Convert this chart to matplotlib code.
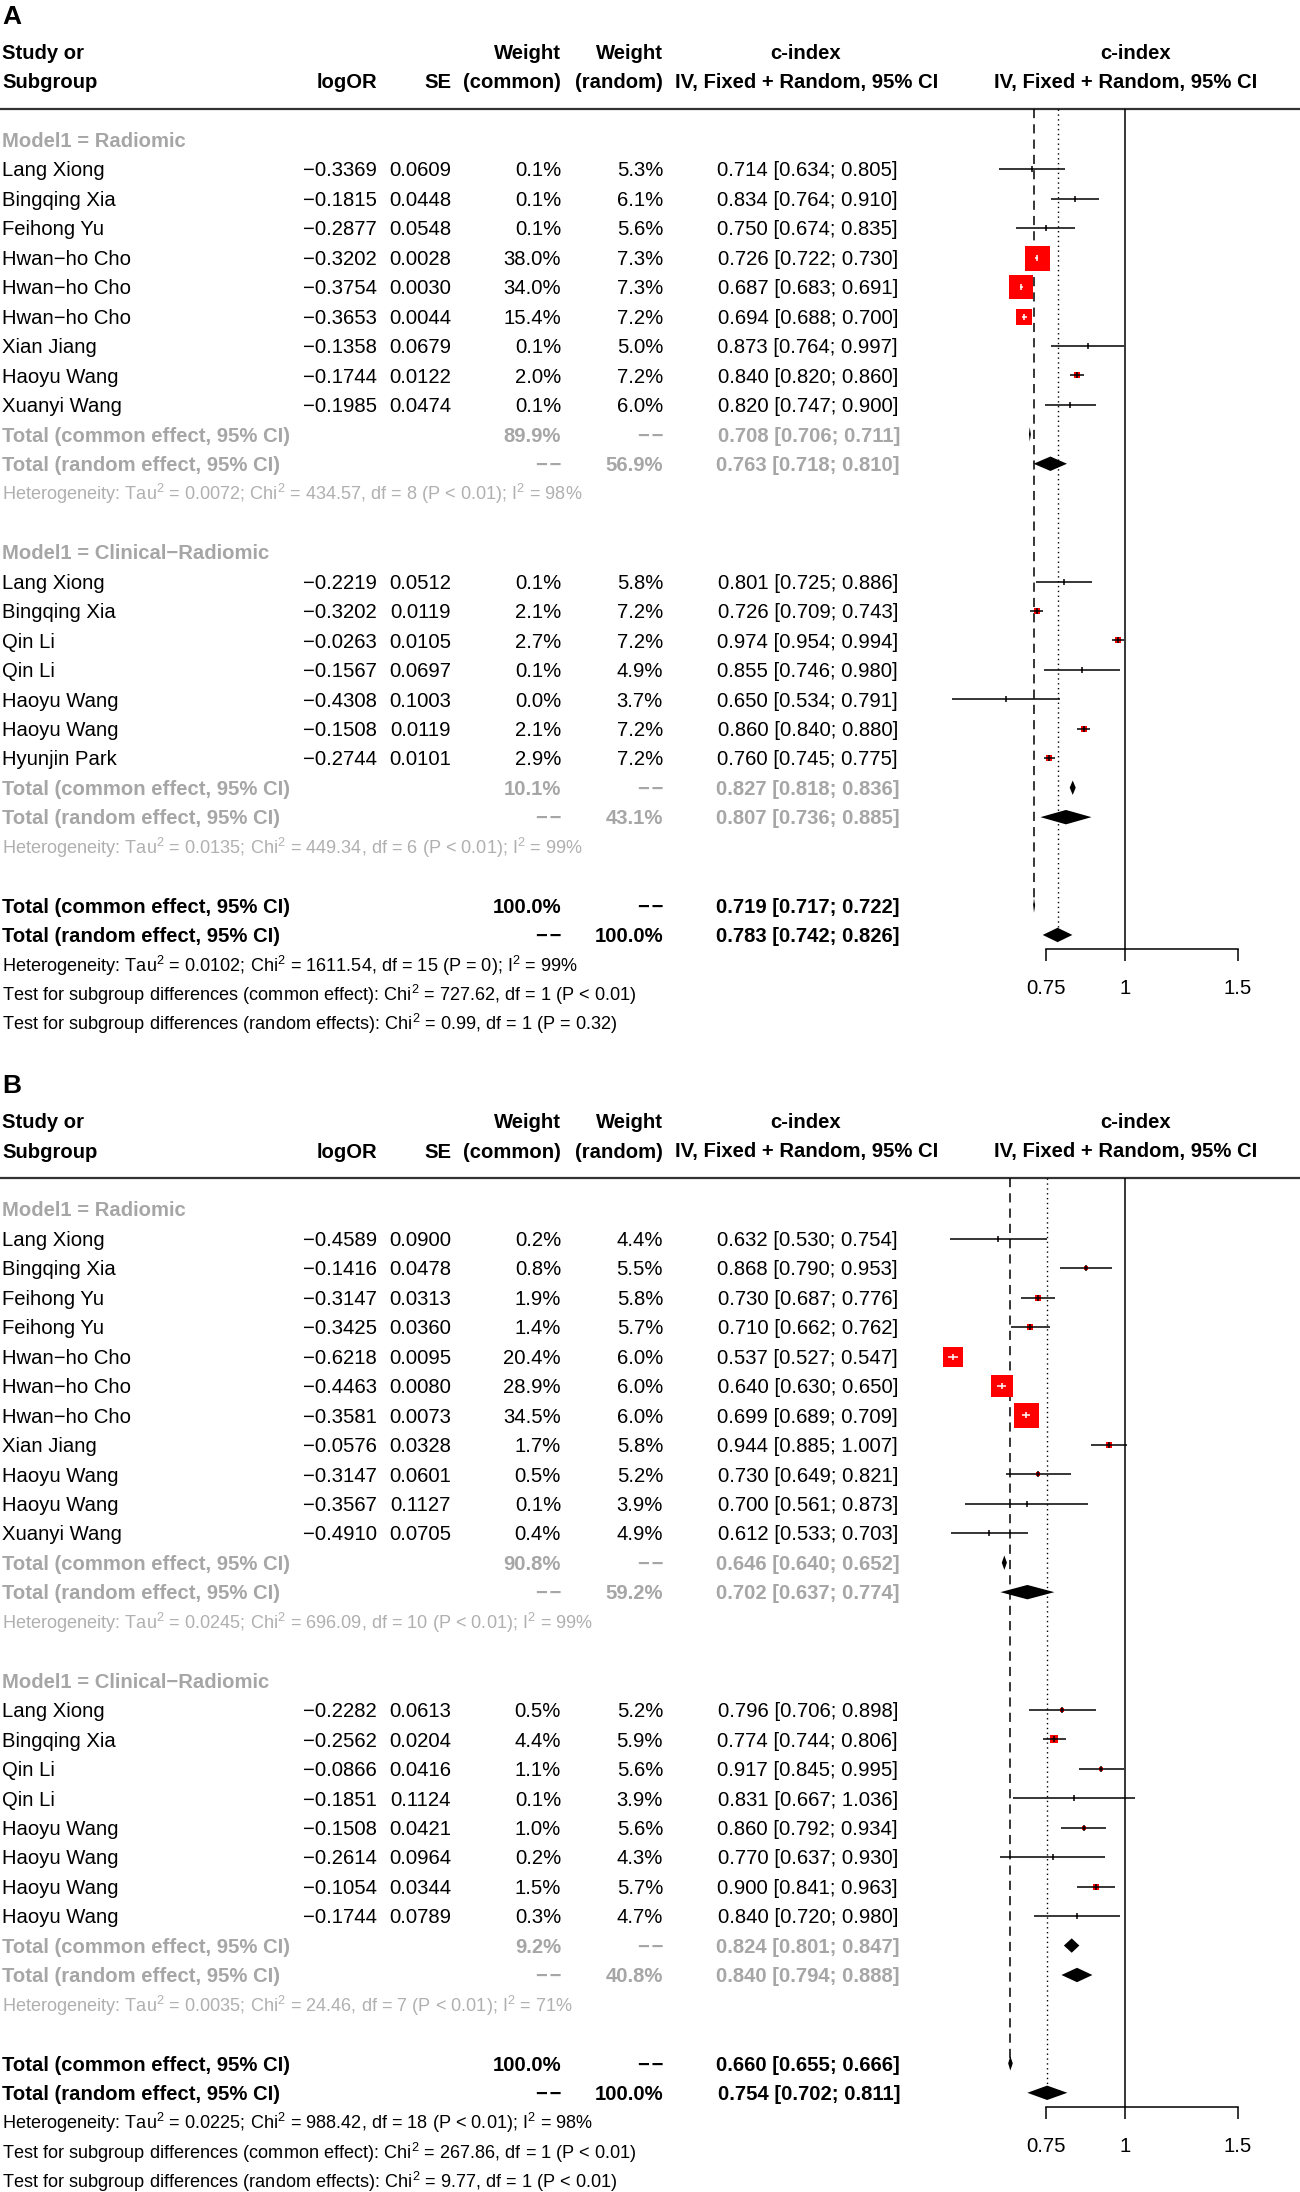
import numpy as np
import matplotlib.pyplot as plt
from matplotlib.ticker import NullLocator, FixedLocator, FixedFormatter

plt.rcParams['font.family'] = ['Liberation Sans', 'DejaVu Sans']
plt.rcParams['mathtext.fontset'] = 'custom'
plt.rcParams['mathtext.rm'] = 'Liberation Sans'
plt.rcParams['mathtext.bf'] = 'Liberation Sans:bold'

# %% panel A, subgroup Radiomic
a1_study = ['Lang Xiong', 'Bingqing Xia', 'Feihong Yu', 'Hwan−ho Cho', 'Hwan−ho Cho', 'Hwan−ho Cho',
            'Xian Jiang', 'Haoyu Wang', 'Xuanyi Wang']
a1_logor = [-0.3369, -0.1815, -0.2877, -0.3202, -0.3754, -0.3653, -0.1358, -0.1744, -0.1985]
a1_se = [0.0609, 0.0448, 0.0548, 0.0028, 0.0030, 0.0044, 0.0679, 0.0122, 0.0474]
a1_wcom = [0.1, 0.1, 0.1, 38.0, 34.0, 15.4, 0.1, 2.0, 0.1]
a1_wran = [5.3, 6.1, 5.6, 7.3, 7.3, 7.2, 5.0, 7.2, 6.0]
a1_est = [0.714, 0.834, 0.750, 0.726, 0.687, 0.694, 0.873, 0.840, 0.820]
a1_lo = [0.634, 0.764, 0.674, 0.722, 0.683, 0.688, 0.764, 0.820, 0.747]
a1_hi = [0.805, 0.910, 0.835, 0.730, 0.691, 0.700, 0.997, 0.860, 0.900]
a1_com = [0.708, 0.706, 0.711]
a1_ran = [0.763, 0.718, 0.810]
a1_wtot = [89.9, 56.9]
a1_het = ['0.0072', '434.57', '8', '< 0.01', '98']

# %% panel A, subgroup Clinical-Radiomic
a2_study = ['Lang Xiong', 'Bingqing Xia', 'Qin Li', 'Qin Li', 'Haoyu Wang', 'Haoyu Wang', 'Hyunjin Park']
a2_logor = [-0.2219, -0.3202, -0.0263, -0.1567, -0.4308, -0.1508, -0.2744]
a2_se = [0.0512, 0.0119, 0.0105, 0.0697, 0.1003, 0.0119, 0.0101]
a2_wcom = [0.1, 2.1, 2.7, 0.1, 0.0, 2.1, 2.9]
a2_wran = [5.8, 7.2, 7.2, 4.9, 3.7, 7.2, 7.2]
a2_est = [0.801, 0.726, 0.974, 0.855, 0.650, 0.860, 0.760]
a2_lo = [0.725, 0.709, 0.954, 0.746, 0.534, 0.840, 0.745]
a2_hi = [0.886, 0.743, 0.994, 0.980, 0.791, 0.880, 0.775]
a2_com = [0.827, 0.818, 0.836]
a2_ran = [0.807, 0.736, 0.885]
a2_wtot = [10.1, 43.1]
a2_het = ['0.0135', '449.34', '6', '< 0.01', '99']

a_com = [0.719, 0.717, 0.722]
a_ran = [0.783, 0.742, 0.826]
a_het = ['0.0102', '1611.54', '15', '= 0', '99']
a_test = [['727.62', '1', '< 0.01'], ['0.99', '1', '= 0.32']]

# %% panel B, subgroup Radiomic
b1_study = ['Lang Xiong', 'Bingqing Xia', 'Feihong Yu', 'Feihong Yu', 'Hwan−ho Cho', 'Hwan−ho Cho',
            'Hwan−ho Cho', 'Xian Jiang', 'Haoyu Wang', 'Haoyu Wang', 'Xuanyi Wang']
b1_logor = [-0.4589, -0.1416, -0.3147, -0.3425, -0.6218, -0.4463, -0.3581, -0.0576, -0.3147, -0.3567, -0.4910]
b1_se = [0.0900, 0.0478, 0.0313, 0.0360, 0.0095, 0.0080, 0.0073, 0.0328, 0.0601, 0.1127, 0.0705]
b1_wcom = [0.2, 0.8, 1.9, 1.4, 20.4, 28.9, 34.5, 1.7, 0.5, 0.1, 0.4]
b1_wran = [4.4, 5.5, 5.8, 5.7, 6.0, 6.0, 6.0, 5.8, 5.2, 3.9, 4.9]
b1_est = [0.632, 0.868, 0.730, 0.710, 0.537, 0.640, 0.699, 0.944, 0.730, 0.700, 0.612]
b1_lo = [0.530, 0.790, 0.687, 0.662, 0.527, 0.630, 0.689, 0.885, 0.649, 0.561, 0.533]
b1_hi = [0.754, 0.953, 0.776, 0.762, 0.547, 0.650, 0.709, 1.007, 0.821, 0.873, 0.703]
b1_com = [0.646, 0.640, 0.652]
b1_ran = [0.702, 0.637, 0.774]
b1_wtot = [90.8, 59.2]
b1_het = ['0.0245', '696.09', '10', '< 0.01', '99']

# %% panel B, subgroup Clinical-Radiomic
b2_study = ['Lang Xiong', 'Bingqing Xia', 'Qin Li', 'Qin Li', 'Haoyu Wang', 'Haoyu Wang', 'Haoyu Wang', 'Haoyu Wang']
b2_logor = [-0.2282, -0.2562, -0.0866, -0.1851, -0.1508, -0.2614, -0.1054, -0.1744]
b2_se = [0.0613, 0.0204, 0.0416, 0.1124, 0.0421, 0.0964, 0.0344, 0.0789]
b2_wcom = [0.5, 4.4, 1.1, 0.1, 1.0, 0.2, 1.5, 0.3]
b2_wran = [5.2, 5.9, 5.6, 3.9, 5.6, 4.3, 5.7, 4.7]
b2_est = [0.796, 0.774, 0.917, 0.831, 0.860, 0.770, 0.900, 0.840]
b2_lo = [0.706, 0.744, 0.845, 0.667, 0.792, 0.637, 0.841, 0.720]
b2_hi = [0.898, 0.806, 0.995, 1.036, 0.934, 0.930, 0.963, 0.980]
b2_com = [0.824, 0.801, 0.847]
b2_ran = [0.840, 0.794, 0.888]
b2_wtot = [9.2, 40.8]
b2_het = ['0.0035', '24.46', '7', '< 0.01', '71']

b_com = [0.660, 0.655, 0.666]
b_ran = [0.754, 0.702, 0.811]
b_het = ['0.0225', '988.42', '18', '< 0.01', '98']
b_test = [['267.86', '1', '< 0.01'], ['9.77', '1', '< 0.01']]

group_names = ['Model1 = Radiomic', 'Model1 = Clinical−Radiomic']

# %% layout (pixels)
W, H = 1300, 2192
FS = 14.6
FS_HET = 13.1
GRAY = '#a6a6a6'
GRAY_HET = '#b0b0b0'
RED = '#ff0000'
NA = '−\u200a−'
PITCH = 29.45
X_ONE = 1125.3       # pixel where c-index = 1
PX_LN = 276.8        # pixels per unit of log(c-index)
BASE = 7.2           # baseline offset below row centre
X_LOG, X_SE, X_WC, X_WR, X_CI = 377, 451, 561, 663, 898
FOREST_L, FOREST_R = 900, 1300


def fmt_ci(v):
    return '%.3f [%.3f; %.3f]' % (v[0], v[1], v[2])


def het_text(h):
    return ('Heterogeneity: Tau$^2$ = %s; Chi$^2$ = %s, df = %s (P %s); I$^2$ = %s%%'
            % (h[0], h[1], h[2], h[3], h[4]))


def draw_panel(fig, tx, label, y0, groups, com, ran, het, test):
    ypx = lambda r: y0 + r * PITCH
    put = lambda x, r, s, **kw: tx.text(x, ypx(r) + BASE, s, va='baseline', **kw)

    tx.text(2, y0 - 123, label, fontsize=19, fontweight='bold', va='center')
    h1, h2 = y0 - 88 + BASE, y0 - 59 + BASE
    hk = dict(fontsize=FS, fontweight='bold', va='baseline')
    tx.text(2, h1, 'Study or', **hk)
    tx.text(2, h2, 'Subgroup', **hk)
    tx.text(X_LOG, h2, 'logOR', ha='right', **hk)
    tx.text(X_SE, h2, 'SE', ha='right', **hk)
    tx.text(X_WC, h1, 'Weight', ha='right', **hk)
    tx.text(X_WC, h2, '(common)', ha='right', **hk)
    tx.text(X_WR, h1, 'Weight', ha='right', **hk)
    tx.text(X_WR, h2, '(random)', ha='right', **hk)
    tx.text(806, h1, 'c-index', ha='center', **hk)
    tx.text(807, h2, 'IV, Fixed + Random, 95% CI', ha='center', **hk)
    tx.text(1136, h1, 'c-index', ha='center', **hk)
    tx.text(1126, h2, 'IV, Fixed + Random, 95% CI', ha='center', **hk)
    rule = y0 - 31
    tx.plot([0, W], [rule, rule], color='#333333', lw=1.6)

    # row numbers
    r = 0
    for g in groups:
        g['r_label'] = r
        g['r_study'] = list(range(r + 1, r + 1 + len(g['study'])))
        r += len(g['study']) + 1
        g['r_com'], g['r_ran'], g['r_het'] = r, r + 1, r + 2
        r += 4
    r_com, r_ran = r, r + 1

    axis_px = ypx(r_ran) + 14
    ax = fig.add_axes([FOREST_L / W, 1 - axis_px / H, (FOREST_R - FOREST_L) / W, (axis_px - rule) / H])
    ax.set_facecolor('none')
    ax.set_xscale('log')
    ax.set_xlim(np.exp((FOREST_L - X_ONE) / PX_LN), np.exp((FOREST_R - X_ONE) / PX_LN))
    ax.set_ylim((axis_px - y0) / PITCH, (rule - y0) / PITCH)
    top = (rule - y0) / PITCH
    dh = 7.2 / PITCH

    ax.axvline(1, color='black', lw=1.1, zorder=1)
    ax.vlines(com[0], top, r_com, colors='black', lw=1.1, linestyles=(0, (6, 4)), zorder=1)
    ax.vlines(ran[0], top, r_ran - dh, colors='black', lw=1.0, linestyles=(0, (1, 2.5)), zorder=1)

    wmax = max(max(g['wcom']) for g in groups)
    for g in groups:
        put(2, g['r_label'], g['name'], fontsize=FS, fontweight='bold', color=GRAY)
        for i, rr in enumerate(g['r_study']):
            put(2, rr, g['study'][i], fontsize=FS)
            put(X_LOG, rr, ('%.4f' % g['logor'][i]).replace('-', '−'), fontsize=FS, ha='right')
            put(X_SE, rr, '%.4f' % g['se'][i], fontsize=FS, ha='right')
            put(X_WC, rr, '%.1f%%' % g['wcom'][i], fontsize=FS, ha='right')
            put(X_WR, rr, '%.1f%%' % g['wran'][i], fontsize=FS, ha='right')
            put(X_CI, rr, fmt_ci([g['est'][i], g['lo'][i], g['hi'][i]]), fontsize=FS, ha='right')

            est, lo, hi = g['est'][i], g['lo'][i], g['hi'][i]
            side = 25 * np.sqrt(g['wcom'][i] / wmax)
            reach = max(np.log(est / lo), np.log(hi / est)) * PX_LN
            col = 'white' if reach <= side / 2 else 'black'
            ax.scatter([est], [rr], s=(side * 0.72) ** 2, marker='s', color=RED, linewidths=0, zorder=3)
            ax.plot([lo, hi], [rr, rr], color=col, lw=1.1, solid_capstyle='butt', zorder=4)
            ax.plot([est], [rr], marker='|', ms=5, mew=1.1, color=col, zorder=4)

        bk = dict(fontsize=FS, fontweight='bold', color=GRAY)
        put(2, g['r_com'], 'Total (common effect, 95% CI)', **bk)
        put(X_WC, g['r_com'], '%.1f%%' % g['wtot'][0], ha='right', **bk)
        put(X_WR, g['r_com'], NA, ha='right', **bk)
        put(X_CI + 2, g['r_com'], fmt_ci(g['com']), ha='right', **bk)
        put(2, g['r_ran'], 'Total (random effect, 95% CI)', **bk)
        put(X_WC, g['r_ran'], NA, ha='right', **bk)
        put(X_WR, g['r_ran'], '%.1f%%' % g['wtot'][1], ha='right', **bk)
        put(X_CI + 2, g['r_ran'], fmt_ci(g['ran']), ha='right', **bk)
        put(2, g['r_het'], het_text(g['het']), fontsize=FS_HET, color=GRAY_HET)

        for v, rr in [(g['com'], g['r_com']), (g['ran'], g['r_ran'])]:
            ax.fill([v[1], v[0], v[2], v[0]], [rr, rr - dh, rr, rr + dh], color='black', lw=0, zorder=3)

    bk = dict(fontsize=FS, fontweight='bold', color='black')
    put(2, r_com, 'Total (common effect, 95% CI)', **bk)
    put(X_WC, r_com, '100.0%', ha='right', **bk)
    put(X_WR, r_com, NA, ha='right', **bk)
    put(X_CI + 2, r_com, fmt_ci(com), ha='right', **bk)
    put(2, r_ran, 'Total (random effect, 95% CI)', **bk)
    put(X_WC, r_ran, NA, ha='right', **bk)
    put(X_WR, r_ran, '100.0%', ha='right', **bk)
    put(X_CI + 2, r_ran, fmt_ci(ran), ha='right', **bk)
    put(2, r_ran + 1, het_text(het), fontsize=FS_HET)
    put(2, r_ran + 2, 'Test for subgroup differences (common effect): Chi$^2$ = %s, df = %s (P %s)'
        % tuple(test[0]), fontsize=FS_HET)
    put(2, r_ran + 3, 'Test for subgroup differences (random effects): Chi$^2$ = %s, df = %s (P %s)'
        % tuple(test[1]), fontsize=FS_HET)
    for v, rr in [(com, r_com), (ran, r_ran)]:
        ax.fill([v[1], v[0], v[2], v[0]], [rr, rr - dh, rr, rr + dh], color='black', lw=0, zorder=3)

    for s in ['top', 'right', 'left']:
        ax.spines[s].set_visible(False)
    ax.spines['bottom'].set_bounds(0.75, 1.5)
    ax.spines['bottom'].set_linewidth(1.1)
    ax.xaxis.set_major_locator(FixedLocator([0.75, 1, 1.5]))
    ax.xaxis.set_major_formatter(FixedFormatter(['0.75', '1', '1.5']))
    ax.xaxis.set_minor_locator(NullLocator())
    ax.tick_params(axis='x', direction='out', length=8.6, width=1.1, pad=13, labelsize=FS)
    ax.set_yticks([])
    return ax


def make_group(name, study, logor, se, wcom, wran, est, lo, hi, com, ran, wtot, het):
    return dict(name=name, study=study, logor=logor, se=se, wcom=wcom, wran=wran,
                est=est, lo=lo, hi=hi, com=com, ran=ran, wtot=wtot, het=het)


fig = plt.figure(figsize=(W / 100, H / 100), dpi=100)
tx = fig.add_axes([0, 0, 1, 1])
tx.set_xlim(0, W)
tx.set_ylim(H, 0)
tx.axis('off')

groups_a = [make_group(group_names[0], a1_study, a1_logor, a1_se, a1_wcom, a1_wran, a1_est, a1_lo, a1_hi,
                       a1_com, a1_ran, a1_wtot, a1_het),
            make_group(group_names[1], a2_study, a2_logor, a2_se, a2_wcom, a2_wran, a2_est, a2_lo, a2_hi,
                       a2_com, a2_ran, a2_wtot, a2_het)]
groups_b = [make_group(group_names[0], b1_study, b1_logor, b1_se, b1_wcom, b1_wran, b1_est, b1_lo, b1_hi,
                       b1_com, b1_ran, b1_wtot, b1_het),
            make_group(group_names[1], b2_study, b2_logor, b2_se, b2_wcom, b2_wran, b2_est, b2_lo, b2_hi,
                       b2_com, b2_ran, b2_wtot, b2_het)]

draw_panel(fig, tx, 'A', 139.8, groups_a, a_com, a_ran, a_het, a_test)
draw_panel(fig, tx, 'B', 1209.3, groups_b, b_com, b_ran, b_het, b_test)

fig.savefig('out.png', dpi=100, facecolor='white')
